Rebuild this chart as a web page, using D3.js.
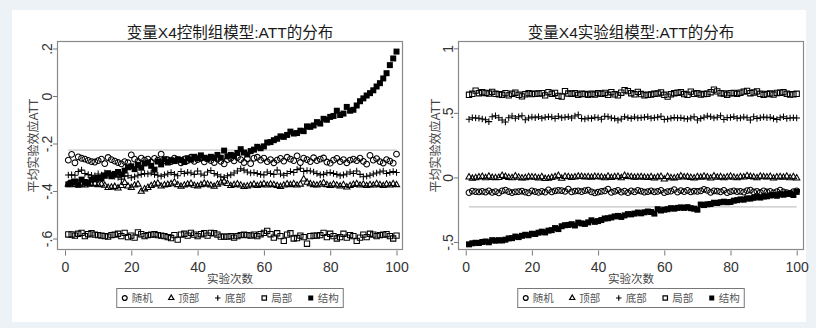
<!DOCTYPE html>
<html>
<head>
<meta charset="utf-8">
<script src="https://cdn.jsdelivr.net/npm/d3@7"></script>
<style>
body { margin: 0; background: #edf2f6; }
svg { display: block; }
text { font-family: "Liberation Sans", Arial, "Noto Sans CJK SC", sans-serif; }
</style>
</head>
<body>
<svg id="chart" width="816" height="328"></svg>
<script>
// series names (legend order)
var seriesNames = ["随机", "顶部", "底部", "局部", "结构"];
var runs = d3.range(1, 101);   // 实验次数 1..100

var xTicks = [0, 20, 40, 60, 80, 100];
var ctrlYTicks = [-.6, -.4, -.2, 0, .2];
var ctrlYLabels = ["-.6", "-.4", "-.2", "0", ".2"];
var expYTicks = [-.5, 0, .5, 1];
var expYLabels = ["-.5", "0", ".5", "1"];

var trueATT = -.228;

// ---- control group model ----
var ctrlRandom = [
 -.270,-.246,-.281,-.256,-.262,-.266,-.271,-.276,-.278,-.272,
 -.266,-.285,-.259,-.268,-.274,-.280,-.286,-.276,-.281,-.248,
 -.266,-.275,-.262,-.270,-.266,-.278,-.263,-.270,-.245,-.272,
 -.268,-.276,-.262,-.270,-.281,-.266,-.272,-.258,-.275,-.268,
 -.262,-.277,-.265,-.272,-.280,-.266,-.275,-.286,-.268,-.262,
 -.273,-.259,-.268,-.280,-.264,-.285,-.262,-.258,-.270,-.262,
 -.276,-.268,-.281,-.270,-.263,-.274,-.258,-.266,-.272,-.252,
 -.280,-.262,-.268,-.276,-.260,-.272,-.266,-.261,-.278,-.283,
 -.270,-.263,-.276,-.268,-.281,-.270,-.266,-.272,-.262,-.275,
 -.287,-.250,-.270,-.264,-.276,-.282,-.268,-.274,-.283,-.245];
var ctrlTop = [
 -.371,-.366,-.374,-.368,-.372,-.376,-.370,-.372,-.369,-.374,
 -.371,-.377,-.386,-.385,-.382,-.388,-.378,-.365,-.380,-.386,
 -.376,-.372,-.402,-.392,-.386,-.378,-.372,-.368,-.380,-.375,
 -.373,-.370,-.364,-.374,-.381,-.376,-.372,-.369,-.377,-.380,
 -.374,-.368,-.372,-.376,-.381,-.372,-.366,-.360,-.369,-.378,
 -.374,-.371,-.376,-.382,-.380,-.376,-.372,-.378,-.374,-.370,
 -.376,-.372,-.374,-.378,-.382,-.376,-.371,-.374,-.370,-.376,
 -.372,-.350,-.364,-.370,-.374,-.376,-.372,-.366,-.374,-.378,
 -.372,-.376,-.380,-.374,-.384,-.378,-.373,-.370,-.376,-.372,
 -.378,-.374,-.376,-.370,-.374,-.378,-.372,-.376,-.370,-.374];
var ctrlBottom = [
 -.333,-.332,-.334,-.318,-.312,-.326,-.331,-.334,-.336,-.328,
 -.333,-.324,-.330,-.334,-.338,-.342,-.350,-.338,-.336,-.344,
 -.340,-.334,-.330,-.326,-.328,-.324,-.330,-.334,-.338,-.332,
 -.328,-.322,-.330,-.336,-.318,-.326,-.321,-.324,-.330,-.316,
 -.328,-.334,-.320,-.314,-.326,-.332,-.340,-.342,-.336,-.332,
 -.324,-.316,-.306,-.312,-.320,-.324,-.322,-.326,-.330,-.332,
 -.320,-.326,-.330,-.312,-.328,-.334,-.326,-.318,-.322,-.310,
 -.304,-.318,-.314,-.316,-.320,-.326,-.332,-.330,-.324,-.322,
 -.326,-.330,-.336,-.332,-.328,-.320,-.326,-.316,-.330,-.340,
 -.338,-.334,-.328,-.324,-.320,-.316,-.326,-.322,-.318,-.322];
var ctrlLocal = [
 -.583,-.583,-.588,-.580,-.576,-.590,-.582,-.578,-.584,-.586,
 -.588,-.590,-.592,-.586,-.584,-.580,-.590,-.576,-.594,-.588,
 -.596,-.574,-.582,-.590,-.586,-.584,-.582,-.586,-.588,-.590,
 -.594,-.598,-.586,-.605,-.584,-.580,-.588,-.576,-.584,-.590,
 -.582,-.578,-.588,-.576,-.578,-.584,-.592,-.592,-.592,-.590,
 -.596,-.590,-.586,-.584,-.586,-.588,-.584,-.590,-.582,-.576,
 -.568,-.582,-.596,-.578,-.590,-.610,-.584,-.578,-.600,-.598,
 -.588,-.594,-.622,-.590,-.588,-.588,-.586,-.576,-.594,-.580,
 -.590,-.600,-.594,-.580,-.596,-.586,-.590,-.610,-.596,-.584,
 -.594,-.580,-.584,-.590,-.586,-.584,-.582,-.590,-.600,-.588];
var ctrlStruct = [
 -.372,-.365,-.360,-.374,-.352,-.362,-.366,-.352,-.350,-.345,
 -.348,-.336,-.325,-.338,-.328,-.320,-.330,-.314,-.300,-.296,
 -.308,-.290,-.302,-.284,-.280,-.294,-.310,-.276,-.288,-.266,
 -.280,-.270,-.274,-.266,-.270,-.278,-.262,-.268,-.256,-.262,
 -.250,-.260,-.264,-.256,-.260,-.248,-.260,-.230,-.254,-.248,
 -.252,-.240,-.224,-.238,-.246,-.232,-.226,-.214,-.220,-.212,
 -.196,-.194,-.186,-.180,-.170,-.172,-.164,-.150,-.158,-.156,
 -.146,-.148,-.128,-.130,-.124,-.110,-.116,-.096,-.100,-.088,
 -.084,-.062,-.080,-.074,-.046,-.062,-.058,-.040,-.022,-.010,
  .002, .012, .024, .040, .054, .074, .096, .130, .158, .187];

// ---- treatment group model ----
var expRandom = [
 -.118,-.106,-.110,-.112,-.108,-.114,-.104,-.116,-.110,-.120,
 -.104,-.098,-.110,-.118,-.112,-.110,-.106,-.114,-.120,-.104,
 -.110,-.116,-.108,-.114,-.096,-.112,-.104,-.100,-.102,-.108,
 -.090,-.112,-.106,-.104,-.110,-.102,-.098,-.112,-.120,-.114,
 -.108,-.104,-.090,-.116,-.108,-.100,-.114,-.106,-.118,-.104,
 -.112,-.100,-.106,-.114,-.110,-.104,-.112,-.108,-.100,-.118,
 -.110,-.106,-.094,-.114,-.102,-.110,-.100,-.112,-.106,-.108,
 -.104,-.092,-.100,-.116,-.104,-.106,-.112,-.100,-.118,-.110,
 -.104,-.110,-.108,-.114,-.102,-.098,-.112,-.108,-.116,-.104,
 -.112,-.108,-.120,-.110,-.098,-.112,-.118,-.124,-.110,-.104];
var expTop = [
  .002,-.008,-.004, .002, .006,-.004, .008,-.002,-.004,-.002,
  .014, .006,-.002,-.004, .010, .000,-.006,-.004, .004, .002,
  .000,-.006, .004,-.010,-.008,-.002, .004, .014,-.008, .006,
  .004,-.002, .002, .008, .006, .002, .004, .000, .006, .004,
  .002,-.004, .008,-.002, .004, .006,-.004, .014, .006, .004,
  .000, .002, .004, .000,-.002, .004,-.006, .002, .006,-.014,
  .006,-.004,-.006, .000, .010, .002, .004,-.002,-.006, .004,
  .000, .008, .002,-.006, .010, .000, .004,-.004, .002, .008,
  .000,-.004, .004, .002, .012, .006, .002,-.004, .008, .004,
  .002, .006,-.006, .002, .004, .000, .008,-.004, .004,-.006];
var expBottom = [
 .450,.462,.460,.458,.452,.446,.432,.470,.478,.462,
 .444,.430,.462,.476,.458,.470,.478,.446,.460,.468,
 .462,.470,.458,.466,.470,.468,.456,.474,.462,.466,
 .470,.460,.476,.486,.456,.452,.460,.456,.466,.462,
 .450,.474,.470,.460,.456,.444,.452,.470,.462,.456,
 .468,.460,.462,.466,.470,.458,.462,.466,.474,.448,
 .452,.458,.464,.460,.462,.456,.452,.460,.470,.444,
 .456,.466,.476,.470,.460,.466,.478,.448,.462,.464,
 .470,.458,.460,.468,.462,.444,.470,.456,.462,.468,
 .462,.466,.456,.448,.462,.470,.456,.460,.462,.460];
var expLocal = [
 .640,.648,.672,.652,.660,.654,.650,.662,.648,.644,
 .640,.652,.636,.648,.656,.640,.628,.644,.652,.646,
 .648,.650,.652,.636,.660,.648,.654,.632,.626,.668,
 .650,.648,.652,.640,.648,.646,.640,.648,.642,.652,
 .648,.654,.640,.660,.644,.636,.656,.676,.668,.652,
 .644,.662,.646,.636,.640,.642,.648,.650,.658,.640,
 .626,.644,.652,.656,.660,.646,.640,.664,.648,.652,
 .642,.646,.648,.660,.680,.666,.652,.650,.640,.652,
 .654,.648,.656,.664,.670,.652,.658,.666,.648,.640,
 .646,.650,.642,.654,.656,.660,.648,.642,.644,.648];
var expStruct = [
 -.518,-.510,-.506,-.508,-.500,-.496,-.502,-.486,-.490,-.486,
 -.488,-.482,-.472,-.470,-.458,-.462,-.452,-.444,-.448,-.436,
 -.438,-.428,-.420,-.426,-.412,-.408,-.392,-.400,-.378,-.370,
 -.368,-.362,-.372,-.350,-.356,-.360,-.348,-.332,-.344,-.338,
 -.330,-.318,-.316,-.310,-.302,-.298,-.306,-.294,-.284,-.286,
 -.280,-.272,-.278,-.270,-.264,-.268,-.280,-.246,-.256,-.250,
 -.246,-.238,-.242,-.236,-.232,-.236,-.230,-.238,-.242,-.250,
 -.210,-.214,-.208,-.206,-.196,-.198,-.192,-.188,-.192,-.190,
 -.180,-.176,-.170,-.172,-.162,-.164,-.158,-.150,-.156,-.148,
 -.146,-.140,-.136,-.142,-.130,-.134,-.128,-.124,-.136,-.112];

// stroke-style marker shapes (Stata look)
var symTriangle = {
  draw: function(ctx, size) {
    var s = Math.sqrt(size) * 0.68, t = s / 2, u = s * Math.sqrt(3) / 2;
    ctx.moveTo(0, -s); ctx.lineTo(u, t); ctx.lineTo(-u, t); ctx.closePath();
  }
};
var symPlus = {
  draw: function(ctx, size) {
    var r = Math.sqrt(size) * 0.6;
    ctx.moveTo(-r, 0); ctx.lineTo(r, 0);
    ctx.moveTo(0, -r); ctx.lineTo(0, r);
  }
};
var markerStyles = [
  {type: d3.symbolCircle, size: 26, fill: "none"},
  {type: symTriangle,     size: 28, fill: "none"},
  {type: symPlus,         size: 30, fill: "none"},
  {type: d3.symbolSquare, size: 28, fill: "none"},
  {type: d3.symbolSquare, size: 36, fill: "#000"}
];

var svg = d3.select("#chart");
svg.append("rect")
    .attr("x", 12).attr("y", 10)
    .attr("width", 794).attr("height", 312)
    .attr("fill", "#fff");

function drawPanel(cfg) {
    var g = svg.append("g");
    var b = cfg.box;

    var x = d3.scaleLinear().domain([0, 100]).range(cfg.xRange);
    var y = d3.scaleLinear().domain(cfg.yDomain).range(cfg.yRange);

    // plot region border
    g.append("rect")
        .attr("x", b.left).attr("y", b.top)
        .attr("width", b.right - b.left).attr("height", b.bottom - b.top)
        .attr("fill", "none")
        .attr("stroke", "#8a8a8a")
        .attr("stroke-width", 1.2);

    // y axis
    var yAxis = g.append("g")
        .attr("transform", "translate(" + b.left + ",0)")
        .call(d3.axisLeft(y)
            .tickValues(cfg.yTicks)
            .tickSize(4.5)
            .tickFormat(function(d, i) { return cfg.yLabels[i]; }));
    yAxis.select(".domain").remove();
    yAxis.selectAll(".tick line").attr("stroke", "#777");
    yAxis.selectAll(".tick text")
        .attr("x", null).attr("dy", null)
        .attr("text-anchor", "middle")
        .attr("transform", "translate(-6,0) rotate(-90)")
        .attr("fill", "#333")
        .style("font-size", "14px");

    // x axis
    var xAxis = g.append("g")
        .attr("transform", "translate(0," + b.bottom + ")")
        .call(d3.axisBottom(x).tickValues(xTicks).tickSize(6));
    xAxis.select(".domain").remove();
    xAxis.selectAll(".tick line").attr("stroke", "#777").attr("y1", 1);
    xAxis.selectAll(".tick text")
        .attr("y", 22).attr("dy", null)
        .attr("fill", "#333")
        .style("font-size", "14px");

    // titles
    var cx = (b.left + b.right) / 2;
    g.append("text")
        .attr("x", cx).attr("y", 38)
        .attr("text-anchor", "middle")
        .attr("fill", "#1a1a1a")
        .style("font-size", "15.5px")
        .text(cfg.title);
    g.append("text")
        .attr("x", cx).attr("y", 282.5)
        .attr("text-anchor", "middle")
        .attr("fill", "#444")
        .style("font-size", "11.5px")
        .text("实验次数");
    g.append("text")
        .attr("transform", "translate(" + cfg.yTitleX + "," + ((b.top + b.bottom) / 2) + ") rotate(-90)")
        .attr("text-anchor", "middle")
        .attr("fill", "#444")
        .style("font-size", "12px")
        .text("平均实验效应ATT");

    // true ATT reference line
    g.append("line")
        .attr("x1", x(1)).attr("x2", x(100))
        .attr("y1", y(trueATT)).attr("y2", y(trueATT))
        .attr("stroke", "#c4c4c4")
        .attr("stroke-width", 1.2);

    // markers
    cfg.series.forEach(function(vals, k) {
        var st = markerStyles[k];
        var sym = d3.symbol().type(st.type).size(st.size);
        g.append("g").selectAll("path")
            .data(vals)
            .join("path")
            .attr("transform", function(d, i) { return "translate(" + x(runs[i]) + "," + y(d) + ")"; })
            .attr("d", sym)
            .attr("fill", st.fill)
            .attr("stroke", st.fill === "none" ? "#000" : "none")
            .attr("stroke-width", 1.05);
    });

    // legend
    var step = 46.5, lw = 226.5, lx = cx - lw / 2;
    var leg = g.append("g").attr("transform", "translate(" + lx + ",288.5)");
    leg.append("rect")
        .attr("width", lw).attr("height", 19)
        .attr("fill", "#fff")
        .attr("stroke", "#777")
        .attr("stroke-width", 1);
    seriesNames.forEach(function(name, k) {
        var st = markerStyles[k];
        var item = leg.append("g").attr("transform", "translate(" + (8 + k * step) + ",9.5)");
        item.append("path")
            .attr("d", d3.symbol().type(st.type).size(st.size * 0.7)())
            .attr("fill", st.fill)
            .attr("stroke", st.fill === "none" ? "#000" : "none")
            .attr("stroke-width", 1.2);
        item.append("text")
            .attr("x", 7).attr("y", 4)
            .attr("fill", "#555")
            .style("font-size", "10.5px")
            .text(name);
    });
}

drawPanel({
    title: "变量X4控制组模型:ATT的分布",
    box: {left: 57.5, top: 41.5, right: 402.5, bottom: 249.5},
    xRange: [65, 396.5],
    yDomain: [-.6, .2], yRange: [238.5, 48.5],
    yTicks: ctrlYTicks, yLabels: ctrlYLabels,
    yTitleX: 37.5,
    series: [ctrlRandom, ctrlTop, ctrlBottom, ctrlLocal, ctrlStruct]
});

drawPanel({
    title: "变量X4实验组模型:ATT的分布",
    box: {left: 458.5, top: 41.5, right: 803.5, bottom: 249.5},
    xRange: [465.7, 796.7],
    yDomain: [-.5, 1], yRange: [242, 48.3],
    yTicks: expYTicks, yLabels: expYLabels,
    yTitleX: 439.5,
    series: [expRandom, expTop, expBottom, expLocal, expStruct]
});
</script>
</body>
</html>
